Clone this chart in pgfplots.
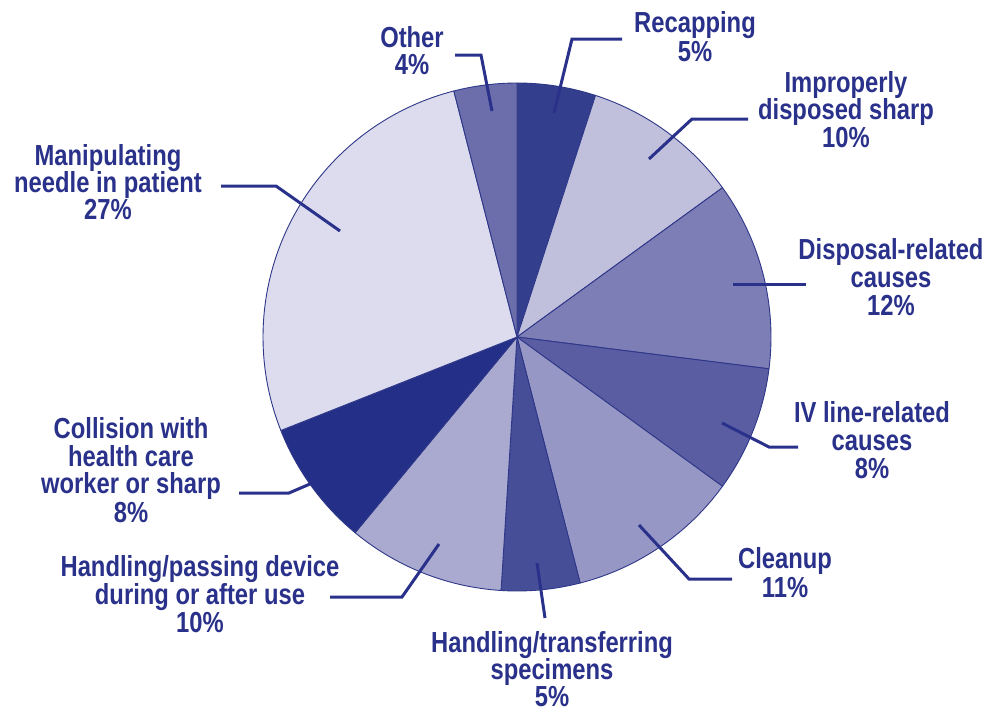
\documentclass[border=0pt]{standalone}
\usepackage{pgfplots}
\pgfplotsset{compat=1.18}
\usepackage{fontspec}
\IfFontExistsTF{Liberation Sans Narrow}
  {\setmainfont{Liberation Sans Narrow}[BoldFeatures={FakeBold=1.2}]}
  {\setmainfont{Liberation Sans}[FakeStretch=0.82]}

\definecolor{txt}{HTML}{29318A}
\definecolor{edge}{HTML}{2E3788}
\definecolor{cRecap}{HTML}{333F8D}
\definecolor{cImprop}{HTML}{C0C0DC}
\definecolor{cDisp}{HTML}{7E7EB6}
\definecolor{cIV}{HTML}{5A5DA2}
\definecolor{cClean}{HTML}{9797C6}
\definecolor{cTrans}{HTML}{474E98}
\definecolor{cPass}{HTML}{AAAAD0}
\definecolor{cColl}{HTML}{243088}
\definecolor{cManip}{HTML}{DCDCEE}
\definecolor{cOther}{HTML}{6C6EAC}

% centre and radius of the pie, in picture pixels
\def\cx{517}\def\cy{337}\def\rad{254}

% #1 = cumulative percent before the slice, #2 = percent, #3 = colour
\newcommand\slice[3]{%
  \pgfmathsetmacro\sa{90-3.6*#1}%
  \pgfmathsetmacro\sb{90-3.6*(#1+#2)}%
  \edef\doslice{\noexpand\filldraw[fill=#3,draw=edge,line width=0.9pt,line join=round]
    (axis cs:\cx,\cy) -- ++(\sa:\rad pt)
    arc[start angle=\sa,end angle=\sb,radius=\rad pt] -- cycle;}%
  \doslice}

\tikzset{lbl/.style={anchor=base,inner sep=0pt,text=txt,
    font=\fontsize{29}{29}\selectfont\bfseries},
  lead/.style={draw=txt,line width=3pt}}

\begin{document}
\begin{tikzpicture}
\begin{axis}[
    scale only axis, width=989pt, height=715pt,
    xmin=0, xmax=989, ymin=0, ymax=715, y dir=reverse,
    hide axis, clip=false]

% slices, clockwise from the top
\slice{0}{5}{cRecap}
\slice{5}{10}{cImprop}
\slice{15}{12}{cDisp}
\slice{27}{8}{cIV}
\slice{35}{11}{cClean}
\slice{46}{5}{cTrans}
\slice{51}{10}{cPass}
\slice{61}{8}{cColl}
\slice{69}{27}{cManip}
\slice{96}{4}{cOther}

% leader lines
\draw[lead] (axis cs:492,111) -- (axis cs:481,55) -- (axis cs:455,55);
\draw[lead] (axis cs:554,113) -- (axis cs:572,39) -- (axis cs:622,39);
\draw[lead] (axis cs:649,159) -- (axis cs:692,119) -- (axis cs:748,119);
\draw[lead] (axis cs:733,284) -- (axis cs:806,284);
\draw[lead] (axis cs:722,423) -- (axis cs:769,447) -- (axis cs:798,447);
\draw[lead] (axis cs:639,525) -- (axis cs:689,579) -- (axis cs:732,579);
\draw[lead] (axis cs:537,563) -- (axis cs:545,618);
\draw[lead] (axis cs:439,544) -- (axis cs:402,597) -- (axis cs:330,597);
\draw[lead] (axis cs:310,484) -- (axis cs:289,493) -- (axis cs:239,493);
\draw[lead] (axis cs:340,231) -- (axis cs:276,186) -- (axis cs:221,186);

% labels
\node[lbl] at (axis cs:412,47) {Other};
\node[lbl] at (axis cs:412,74) {4\%};
\node[lbl] at (axis cs:695,32) {Recapping};
\node[lbl] at (axis cs:695,61) {5\%};
\node[lbl] at (axis cs:846,92) {Improperly};
\node[lbl] at (axis cs:846,119) {disposed sharp};
\node[lbl] at (axis cs:846,147) {10\%};
\node[lbl] at (axis cs:891,259) {Disposal-related};
\node[lbl] at (axis cs:891,287) {causes};
\node[lbl] at (axis cs:891,315) {12\%};
\node[lbl] at (axis cs:872,422) {IV line-related};
\node[lbl] at (axis cs:872,450) {causes};
\node[lbl] at (axis cs:872,478) {8\%};
\node[lbl] at (axis cs:785,568) {Cleanup};
\node[lbl] at (axis cs:785,597) {11\%};
\node[lbl] at (axis cs:552,652) {Handling/transferring};
\node[lbl] at (axis cs:552,679) {specimens};
\node[lbl] at (axis cs:552,706) {5\%};
\node[lbl] at (axis cs:200,576) {Handling/passing device};
\node[lbl] at (axis cs:200,604) {during or after use};
\node[lbl] at (axis cs:200,632) {10\%};
\node[lbl] at (axis cs:131,438) {Collision with};
\node[lbl] at (axis cs:131,466) {health care};
\node[lbl] at (axis cs:131,493) {worker or sharp};
\node[lbl] at (axis cs:131,522) {8\%};
\node[lbl] at (axis cs:108,165) {Manipulating};
\node[lbl] at (axis cs:108,192) {needle in patient};
\node[lbl] at (axis cs:108,219) {27\%};
\end{axis}
\pgfresetboundingbox
\useasboundingbox (0,0) rectangle (989pt,715pt);
\end{tikzpicture}
\end{document}
